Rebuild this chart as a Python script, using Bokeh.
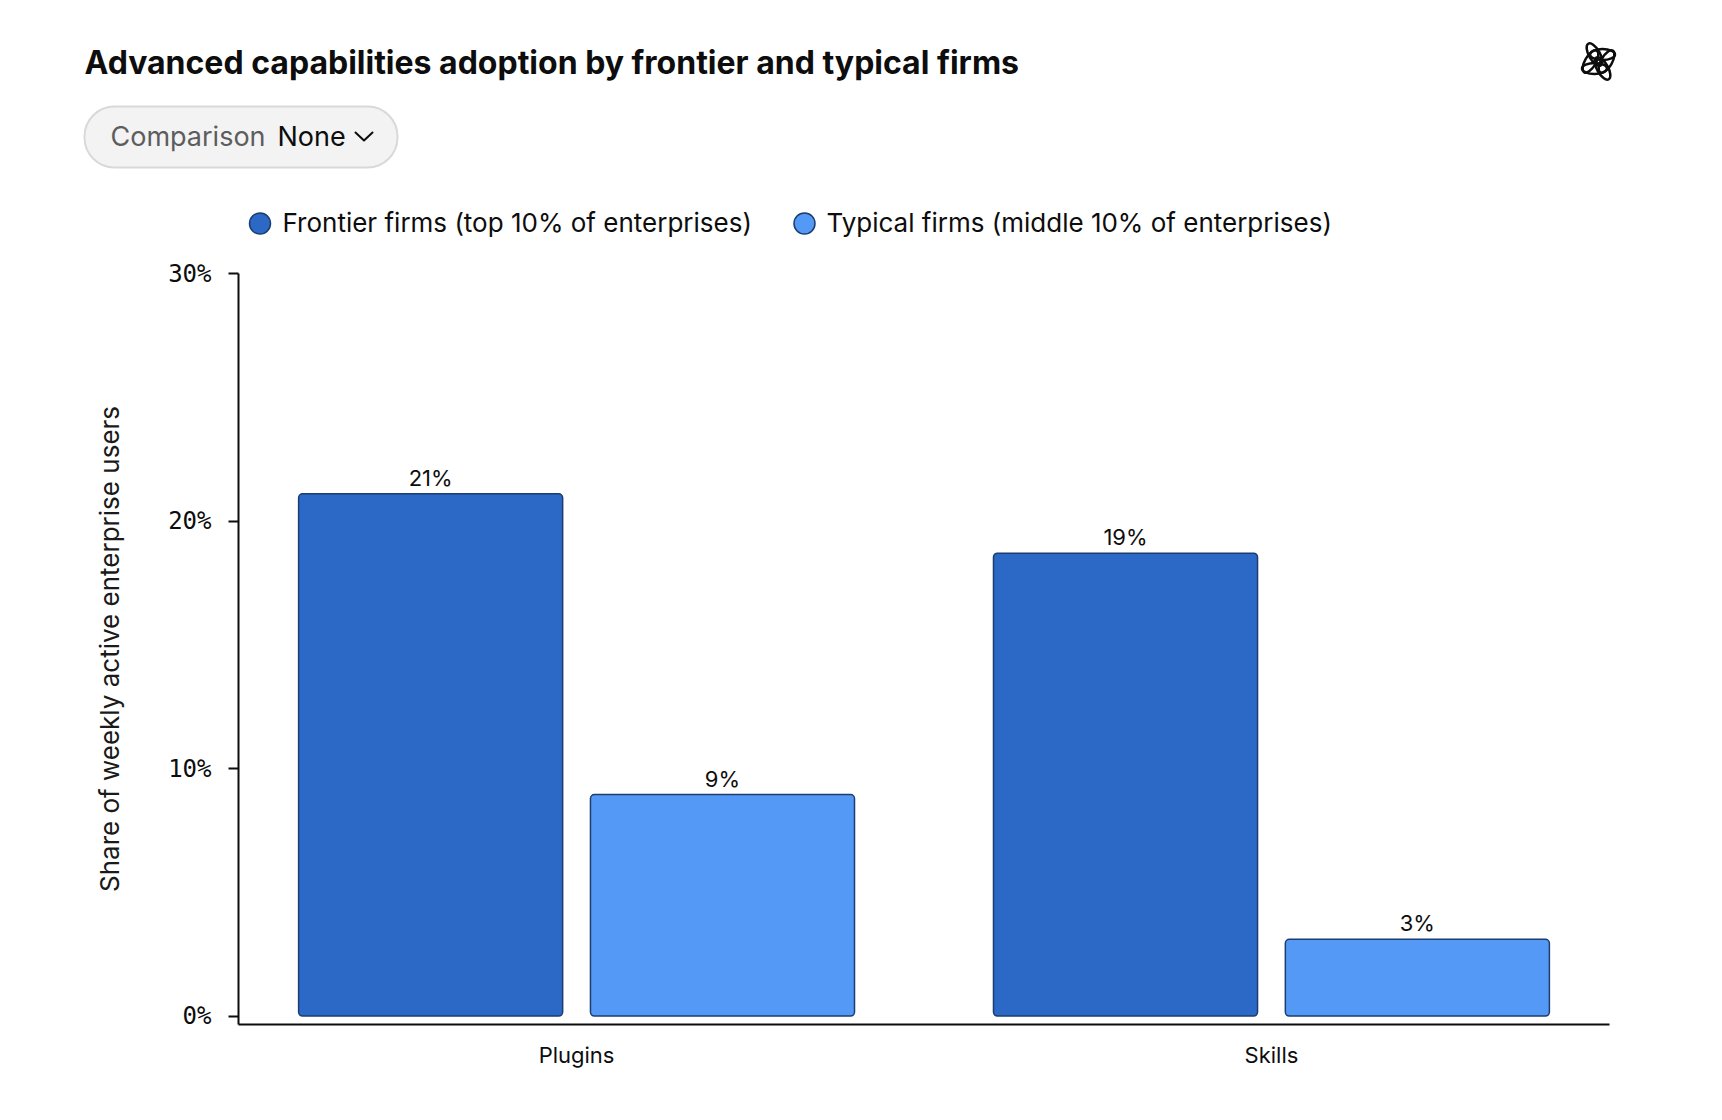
from bokeh.plotting import figure
from bokeh.layouts import column
from bokeh.models import (ColumnDataSource, Range1d, FactorRange, FixedTicker,
                          PrintfTickFormatter, LabelSet)
from bokeh.transform import dodge
from bokeh.core.properties import value
from bokeh.embed import file_html
from bokeh.resources import INLINE
import math

# ---------------- data ----------------
categories = ["Plugins", "Skills"]
frontier = [21.1, 18.7]
typical = [8.95, 3.1]
series_names = ["Frontier firms (top 10% of enterprises)",
                "Typical firms (middle 10% of enterprises)"]
y_ticks = [0, 10, 20, 30]
title_text = "Advanced capabilities adoption by frontier and typical firms"
y_label = "Share of weekly active enterprise users"

C_DARK = "#2c68c6"
C_LIGHT = "#5499f6"
C_EDGE = "#1c3d70"
FONT = "Inter"

W = 1706
HH = 245            # header height
H2 = 1104 - HH      # chart height
FL, FR, FT, FB = 238, 97, 28, 80      # chart borders -> frame 1371 x 751

# ---------------- header (pixel coordinates, y downward) ----------------
hdr = figure(width=W, height=HH, x_range=Range1d(0, W), y_range=Range1d(HH, 0),
             x_axis_type=None, y_axis_type=None, toolbar_location=None,
             output_backend="svg", min_border=0, outline_line_color=None)
hdr.grid.visible = False
hdr.frame_align = False

hdr.text(x=[84], y=[62], text=[title_text], text_font=value(FONT),
         text_font_size="32px", text_font_style="bold", text_color="#0d0d0d",
         text_baseline="alphabetic", text_align="left")

# comparison pill
hdr.quad(left=[84], right=[397], top=[106], bottom=[167], fill_color="#f3f3f3",
         line_color="#d9d9d9", line_width=2, border_radius=30)
hdr.text(x=[110], y=[136], text=["Comparison"], text_font=value(FONT),
         text_font_size="27px", text_color="#5d5d5d", text_baseline="alphabetic")
hdr.text(x=[277], y=[136], text=["None"], text_font=value(FONT),
         text_font_size="27px", text_color="#0d0d0d", text_baseline="alphabetic")
hdr.line(x=[355, 363.5, 372], y=[132, 140, 132], line_color="#0d0d0d",
         line_width=2, line_cap="round", line_join="round")

# legend
hdr.scatter(x=[259.5, 804], y=[223, 223], size=21, marker="circle",
            fill_color=[C_DARK, C_LIGHT], line_color=C_EDGE, line_width=1.5)
hdr.text(x=[282, 826], y=[222, 222], text=series_names, text_font=value(FONT),
         text_font_size="26px", text_color="#0d0d0d", text_baseline="alphabetic")

# logo (approximation of the knot mark: six tilted loops, pinwheel style)
lcx, lcy = 1598, 61
lx, ly, la = [], [], []
for k in range(6):
    th = k * math.pi / 3
    lx.append(lcx + 8 * math.cos(th))
    ly.append(lcy + 8 * math.sin(th))
    la.append(th + math.pi / 3)
hdr.ellipse(x=lx, y=ly, width=25, height=11, angle=la, fill_color=None,
            line_color="#0d0d0d", line_width=2.5)

# ---------------- chart ----------------
src = ColumnDataSource(dict(
    cat=categories,
    frontier=frontier,
    typical=typical,
    f_lab=[f"{round(v)}%" for v in frontier],
    t_lab=[f"{round(v)}%" for v in typical],
))

xr = FactorRange(factors=categories, range_padding=-0.0135, range_padding_units="percent")
p = figure(width=W, height=H2, x_range=xr, y_range=Range1d(-0.34, 30),
           toolbar_location=None, output_backend="svg",
           min_border_left=FL, min_border_right=FR, min_border_top=FT,
           min_border_bottom=FB, outline_line_color=None)
p.grid.visible = False
p.frame_align = False

p.vbar(x=dodge("cat", -0.21, range=p.x_range), top="frontier", width=0.38,
       source=src, fill_color=C_DARK, line_color=C_EDGE, line_width=1.5,
       border_radius=4)
p.vbar(x=dodge("cat", 0.21, range=p.x_range), top="typical", width=0.38,
       source=src, fill_color=C_LIGHT, line_color=C_EDGE, line_width=1.5,
       border_radius=4)

for off, col, ycol in [(-0.21, "f_lab", "frontier"), (0.21, "t_lab", "typical")]:
    p.add_layout(LabelSet(x=dodge("cat", off, range=p.x_range), y=ycol, text=col,
                          source=src, y_offset=8, text_align="center",
                          text_baseline="alphabetic", text_font=value(FONT),
                          text_font_size="22px", text_color="#0d0d0d"))

ya = p.yaxis[0]
ya.ticker = FixedTicker(ticks=y_ticks)
ya.formatter = PrintfTickFormatter(format="%d%%")
ya.major_label_text_font = "DejaVu Sans Mono"
ya.major_label_text_font_size = "24px"
ya.major_label_text_color = "#0d0d0d"
ya.major_tick_out = 10
ya.major_tick_in = 0
ya.minor_tick_line_color = None
ya.major_tick_line_width = 2
ya.major_tick_line_color = "#0d0d0d"
ya.axis_line_width = 2
ya.axis_line_color = "#0d0d0d"
ya.major_label_standoff = 17
ya.axis_label = y_label
ya.axis_label_text_font = FONT
ya.axis_label_text_font_size = "26px"
ya.axis_label_text_font_style = "normal"
ya.axis_label_text_color = "#1a1a1a"
ya.axis_label_standoff = 40

xa = p.xaxis[0]
xa.major_tick_line_color = None
xa.minor_tick_line_color = None
xa.major_tick_out = 0
xa.major_tick_in = 0
xa.axis_line_width = 2
xa.axis_line_color = "#0d0d0d"
xa.major_label_text_font = FONT
xa.major_label_text_font_size = "22px"
xa.major_label_text_color = "#0d0d0d"
xa.major_label_standoff = 17

layout = column(hdr, p, spacing=0)
open("out.html", "w").write(file_html(layout, INLINE))
